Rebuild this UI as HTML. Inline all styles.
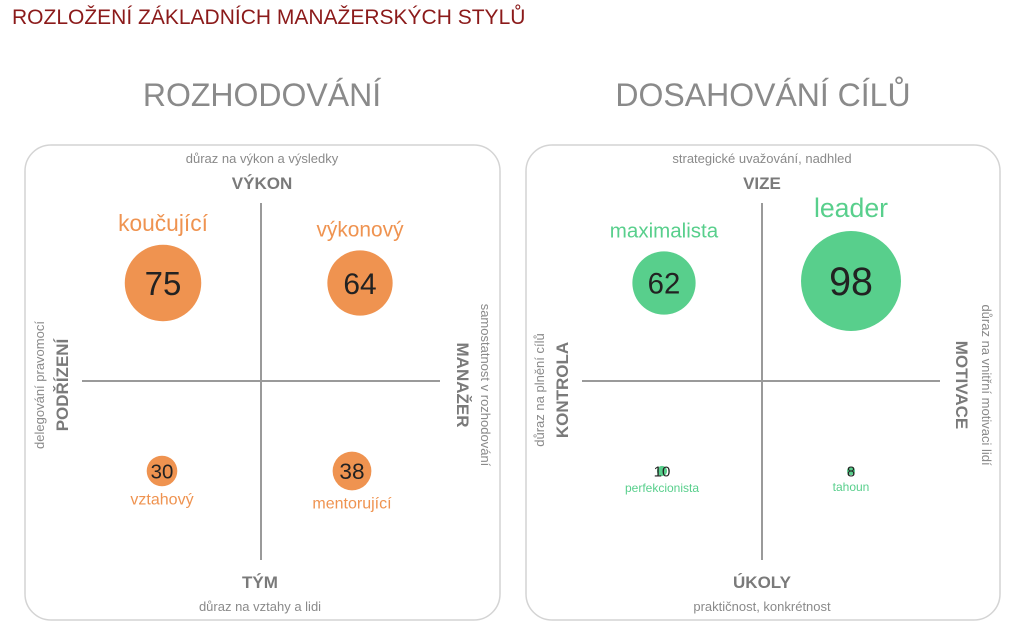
<!DOCTYPE html>
<html><head><meta charset="utf-8"><style>
body{margin:0;background:#fff;width:1031px;height:627px;overflow:hidden;font-family:"Liberation Sans",sans-serif}
</style></head><body>
<svg width="1031" height="627" viewBox="0 0 1031 627" xmlns="http://www.w3.org/2000/svg" font-family="Liberation Sans, sans-serif" id="chart">
<text x="12" y="24" font-size="21" fill="#8b1a1a">ROZLOŽENÍ ZÁKLADNÍCH MANAŽERSKÝCH STYLŮ</text>
<text x="262" y="106" font-size="32" fill="#8a8a8a" text-anchor="middle">ROZHODOVÁNÍ</text>
<text x="763" y="106" font-size="32" fill="#8a8a8a" text-anchor="middle">DOSAHOVÁNÍ CÍLŮ</text>
<rect x="25" y="145" width="475" height="475" rx="26" fill="none" stroke="#d4d4d4" stroke-width="1.5"/>
<rect x="526" y="145" width="474" height="475" rx="26" fill="none" stroke="#d4d4d4" stroke-width="1.5"/>
<g stroke="#9a9a9a" stroke-width="2">
<line x1="261" y1="203" x2="261" y2="560"/>
<line x1="82" y1="381" x2="440" y2="381"/>
<line x1="762" y1="203" x2="762" y2="560"/>
<line x1="582" y1="381" x2="940" y2="381"/>
</g>
<g fill="#8a8a8a" font-size="13" text-anchor="middle">
<text x="262" y="163">důraz na výkon a výsledky</text>
<text x="262" y="189" font-size="17" font-weight="bold" fill="#7a7a7a">VÝKON</text>
<text x="260" y="588" font-size="17" font-weight="bold" fill="#7a7a7a">TÝM</text>
<text x="260" y="611">důraz na vztahy a lidi</text>
<text transform="translate(44,385) rotate(-90)">delegování pravomocí</text>
<text transform="translate(68,385) rotate(-90)" font-size="17" font-weight="bold" fill="#7a7a7a">PODŘÍZENÍ</text>
<text transform="translate(457,385) rotate(90)" font-size="17" font-weight="bold" fill="#7a7a7a">MANAŽER</text>
<text transform="translate(481,385) rotate(90)">samostatnost v rozhodování</text>
<text x="762" y="163">strategické uvažování, nadhled</text>
<text x="762" y="189" font-size="17" font-weight="bold" fill="#7a7a7a">VIZE</text>
<text x="762" y="588" font-size="17" font-weight="bold" fill="#7a7a7a">ÚKOLY</text>
<text x="762" y="611">praktičnost, konkrétnost</text>
<text transform="translate(544,390) rotate(-90)">důraz na plnění cílů</text>
<text transform="translate(568,390) rotate(-90)" font-size="17" font-weight="bold" fill="#7a7a7a">KONTROLA</text>
<text transform="translate(956,385) rotate(90)" font-size="17" font-weight="bold" fill="#7a7a7a">MOTIVACE</text>
<text transform="translate(982,385) rotate(90)">důraz na vnitřní motivaci lidí</text>
</g>
<g id="bubbles"></g>
</svg>
<script>
const leftLabels = ["koučující", "výkonový", "vztahový", "mentorující"];
const leftValues = [75, 64, 30, 38];
const rightLabels = ["maximalista", "leader", "perfekcionista", "tahoun"];
const rightValues = [62, 98, 10, 8];

const NS = "http://www.w3.org/2000/svg";
const g = document.getElementById("bubbles");
function rScale(v){ return v * 0.51; }
function fontFor(v){ return Math.max(15, 12 + v * 0.28); }
// quadrant centers (layout)
const leftCenters = [[163,283],[360,283],[162,471],[352,471]];
const rightCenters = [[664,283],[851,281],[662,471],[851,471]];
function draw(labels, values, centers, color, labelColor, panel){
  values.forEach((v, i) => {
    const [cx, cy] = centers[i];
    const r = rScale(v);
    const c = document.createElementNS(NS, "circle");
    c.setAttribute("cx", cx); c.setAttribute("cy", cy); c.setAttribute("r", r);
    c.setAttribute("fill", color);
    
    
    g.appendChild(c);
    const t = document.createElementNS(NS, "text");
    const fs = fontFor(v);
    t.setAttribute("x", cx); t.setAttribute("y", cy + fs * 0.36);
    t.setAttribute("text-anchor", "middle"); t.setAttribute("font-size", fs);
    t.setAttribute("fill", "#222");
    t.textContent = v;
    
    
    g.appendChild(t);
    const l = document.createElementNS(NS, "text");
    const big = i < 2;
    const lfs = big ? Math.max(20, 10 + v * 0.17) : (panel === 'right' ? 12 : 16);
    const ly = big ? cy - r - 14 : cy + r + (panel === 'right' ? 16 : 18);
    l.setAttribute("x", cx); l.setAttribute("y", ly);
    l.setAttribute("text-anchor", "middle"); l.setAttribute("font-size", lfs);
    l.setAttribute("fill", labelColor);
    l.textContent = labels[i];
    
    
    g.appendChild(l);
  });
}
draw(leftLabels, leftValues, leftCenters, "#ef9350", "#ef9350", "left");
draw(rightLabels, rightValues, rightCenters, "#58cf8c", "#58cf8c", "right");
</script>
</body></html>
